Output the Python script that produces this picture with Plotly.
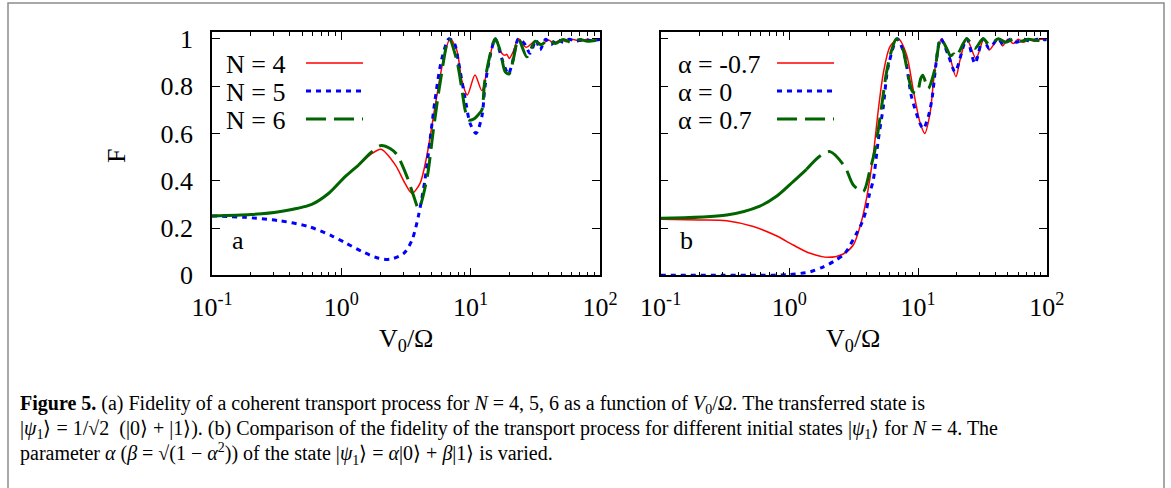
import plotly.graph_objects as go

# ---------------- data: panel (a), fidelity vs V0/Omega for N = 4, 5, 6 ----------------
n4_x = [0.1, 0.15, 0.2, 0.33, 0.45, 0.59, 0.8, 1.07, 1.36, 1.7, 2.03, 2.62, 3.1, 3.52, 4.06, 4.57,
        5.3, 6.15, 6.93, 7.8, 8.53, 9.42, 10.8, 12.2, 13.7, 15.5, 17.4, 18.4, 19.0, 19.9, 21.5, 23.4,
        26.8, 31.5, 35.5, 40, 43.7, 50, 55, 62, 70, 80, 90, 100]
n4_f = [0.251, 0.253, 0.257, 0.269, 0.281, 0.30, 0.347, 0.417, 0.466, 0.512, 0.533, 0.466, 0.39,
        0.347, 0.389, 0.502, 0.713, 0.91, 1.0, 0.953, 0.826, 0.762, 0.847, 0.781, 0.896, 1.0, 0.939,
        0.93, 0.935, 0.917, 0.95, 1.0, 0.964, 0.99, 0.978, 0.995, 0.982, 0.995, 0.988, 0.997, 0.99,
        0.998, 0.993, 0.997]

n5_x = [0.1, 0.18, 0.33, 0.56, 0.85, 1.07, 1.45, 1.95, 2.39, 3.04, 3.52, 3.96, 4.43, 4.85, 5.3,
        5.95, 6.8, 7.5, 8.04, 9.2, 9.89, 11.0, 12.2, 12.9, 14.1, 15.5, 17.4, 19.0, 19.6, 21.1, 23.4,
        26.0, 28.8, 32.0, 34.4, 38, 42, 46, 52, 58, 65, 75, 85, 100]
n5_f = [0.251, 0.245, 0.231, 0.206, 0.166, 0.138, 0.10, 0.072, 0.068, 0.093, 0.149, 0.255, 0.403,
        0.572, 0.741, 0.91, 1.0, 0.98, 0.903, 0.727, 0.643, 0.60, 0.671, 0.797, 0.924, 1.0, 0.917,
        0.861, 0.85, 0.903, 1.0, 0.98, 0.939, 0.995, 0.953, 0.998, 0.975, 0.998, 0.985, 0.998,
        0.99, 0.998, 0.993, 0.997]

n6_x = [0.1, 0.2, 0.33, 0.59, 0.8, 1.07, 1.36, 1.7, 2.0, 2.4, 2.7, 3.22, 3.6, 3.96, 4.57, 5.15,
        5.8, 6.8, 7.8, 8.53, 9.06, 9.6, 10.5, 11.5, 12.2, 12.9, 15.5, 16.9, 18.5, 19.8, 21.5, 23.4,
        27.2, 31.5, 35, 40, 45, 52, 60, 70, 80, 100]
n6_f = [0.251, 0.257, 0.269, 0.30, 0.347, 0.417, 0.466, 0.52, 0.548, 0.535, 0.509, 0.417, 0.34,
        0.283, 0.403, 0.614, 0.812, 1.0, 0.91, 0.79, 0.699, 0.657, 0.66, 0.68, 0.699, 0.826, 1.0,
        0.95, 0.86, 0.851, 0.92, 1.0, 0.924, 0.99, 0.975, 0.995, 0.98, 0.997, 0.985, 0.997, 0.99,
        0.997]

# ---------------- data: panel (b), N = 4, different alpha ----------------
am07_x = [0.1, 0.2, 0.326, 0.525, 0.8, 1.07, 1.45, 2.0, 2.62, 3.14, 3.54, 4.0, 4.49, 4.91, 5.37,
          6.05, 7.02, 8.15, 9.18, 10.4, 11.3, 12.4, 13.5, 15.2, 17.2, 19.7, 21.2, 23.9, 28.2, 32.5,
          35.7, 42, 45.4, 50, 55, 60, 66, 72, 80, 90, 100]
am07_f = [0.237, 0.234, 0.231, 0.206, 0.166, 0.128, 0.093, 0.076, 0.09, 0.128, 0.206, 0.332, 0.51,
          0.699, 0.854, 0.967, 1.0, 0.932, 0.784, 0.643, 0.60, 0.685, 0.868, 1.0, 0.946, 0.84, 0.91,
          1.0, 0.917, 1.0, 0.953, 1.0, 0.97, 0.998, 0.98, 0.998, 0.985, 0.998, 0.99, 0.998, 0.995]

a0_x = [0.1, 0.3, 0.6, 1.0, 1.45, 1.84, 2.2, 2.7, 3.33, 3.65, 3.98, 4.18, 4.49, 4.91, 5.37, 5.86,
        6.9, 7.9, 8.9, 10.4, 11.0, 12.0, 12.8, 15.0, 17.2, 19.4, 23.9, 27.7, 32.0, 35.7, 42, 46,
        52, 58, 66, 75, 85, 100]
a0_f = [0.0, 0.0, 0.0, 0.003, 0.015, 0.036, 0.058, 0.093, 0.178, 0.22, 0.28, 0.34, 0.403, 0.572,
        0.713, 0.882, 1.0, 0.924, 0.755, 0.64, 0.62, 0.67, 0.741, 1.0, 0.93, 0.861, 1.0, 0.896,
        1.0, 0.96, 1.0, 0.975, 0.998, 0.985, 0.998, 0.99, 0.998, 0.996]

ap07_x = [0.1, 0.326, 0.59, 0.8, 1.07, 1.36, 1.73, 2.07, 2.7, 3.14, 3.75, 4.23, 4.63, 5.21, 5.67,
          6.24, 6.8, 7.59, 8.15, 9.08, 9.8, 10.5, 10.9, 12.0, 13.5, 15.0, 16.9, 17.9, 19.0, 19.8,
          23.9, 27.7, 32.0, 36, 42, 48, 55, 63, 72, 85, 100]
ap07_f = [0.241, 0.255, 0.293, 0.335, 0.396, 0.448, 0.504, 0.523, 0.459, 0.382, 0.354, 0.445, 0.53,
          0.713, 0.854, 0.953, 1.0, 0.96, 0.882, 0.776, 0.77, 0.833, 0.846, 0.79, 0.87, 1.0, 0.953,
          0.927, 0.936, 0.925, 1.0, 0.96, 1.0, 0.975, 1.0, 0.985, 0.998, 0.99, 0.998, 0.993, 0.997]

xtick_vals = [0.1, 1, 10, 100]
xtick_text = ["10<sup>-1</sup>", "10<sup>0</sup>", "10<sup>1</sup>", "10<sup>2</sup>"]
ytick_vals = [0, 0.2, 0.4, 0.6, 0.8, 1]
ytick_text = ["0", "0.2", "0.4", "0.6", "0.8", "1"]

legend_a = ["N = 4", "N = 5", "N = 6"]
legend_b = ["α = -0.7", "α = 0", "α = 0.7"]

# ---------------- styling ----------------
W, H = 1171, 488
SERIF = "Liberation Serif"
RED, BLUE, GREEN = "#ff0000", "#0000ff", "#006400"
styles = [dict(color=RED, width=1.5, dash="solid"),
          dict(color=BLUE, width=3, dash="5px,5px"),
          dict(color=GREEN, width=3, dash="20px,8px")]
# the dashed series is drawn unbroken where it varies slowly (as in the original rendering)
SOLID_UNTIL = 1.4


def px_x(p):
    return p / W


def px_y(p):
    return 1 - p / H


def add_line(xs, fs, st, ax):
    fig.add_trace(go.Scatter(x=xs, y=fs, mode="lines", line=dict(shape="spline", smoothing=0.8, **st),
                             xaxis="x" if ax == 1 else "x2", yaxis="y" if ax == 1 else "y2",
                             showlegend=False, hoverinfo="skip"))


fig = go.Figure()
for xs, fs, st, ax in [(n4_x, n4_f, styles[0], 1), (n5_x, n5_f, styles[1], 1), (n6_x, n6_f, styles[2], 1),
                       (am07_x, am07_f, styles[0], 2), (a0_x, a0_f, styles[1], 2), (ap07_x, ap07_f, styles[2], 2)]:
    if st is styles[2]:
        k = max(i for i, v in enumerate(xs) if v <= SOLID_UNTIL)
        add_line(xs[:k + 1], fs[:k + 1], dict(st, dash="solid"), ax)
        add_line(xs[k:], fs[k:], st, ax)
    else:
        add_line(xs, fs, st, ax)

axis_font = dict(family=SERIF, size=26, color="black")
common_x = dict(type="log", range=[-1, 2], showline=True, linecolor="black", linewidth=1.5,
                mirror="allticks", ticks="inside", ticklen=8, tickwidth=1, tickcolor="black",
                tickvals=xtick_vals, ticktext=xtick_text, tickfont=axis_font, showgrid=False,
                zeroline=False, ticklabelstandoff=8, automargin=False,
                minor=dict(ticks="inside", ticklen=4, tickwidth=1, tickcolor="black", dtick="D1",
                           showgrid=False))
common_y = dict(range=[0, 1.0275], showline=True, linecolor="black", linewidth=1.5, mirror="allticks",
                ticks="inside", ticklen=8, tickwidth=1, tickcolor="black", tickvals=ytick_vals,
                ticktext=ytick_text, tickfont=axis_font, showgrid=False, zeroline=False,
                ticklabelstandoff=12, automargin=False)

ydom = [1 - 275.3 / H, 1 - 32.3 / H]
fig.update_layout(
    width=W, height=H, margin=dict(l=0, r=0, t=0, b=0, pad=0, autoexpand=False),
    paper_bgcolor="white", plot_bgcolor="white",
    xaxis=dict(domain=[212 / W, 600 / W], anchor="y", **common_x),
    yaxis=dict(domain=ydom, anchor="x", **common_y),
    xaxis2=dict(domain=[660.7 / W, 1046.7 / W], anchor="y2", **common_x),
    yaxis2=dict(domain=ydom, anchor="x2", showticklabels=False, **common_y),
    showlegend=False,
)

annots = []
shapes = []


def label(cx, cy, text, size=26, xanchor="center", **kw):
    annots.append(dict(x=px_x(cx), y=px_y(cy), xref="paper", yref="paper", text=text, showarrow=False,
                       xanchor=xanchor, yanchor="middle", font=dict(family=SERIF, size=size, color="black"),
                       **kw))


# axis titles
for cx in (406, 853):
    label(cx, 340, "V<sub>0</sub>/Ω")
label(116, 156, "F", textangle=-90)
# panel labels
label(238, 240, "a")
label(686, 240, "b")
# legends (key text left, sample line right)
rows_y = [64, 92, 120]
for labels, tx, lx0, lx1 in [(legend_a, 224, 306, 363), (legend_b, 676, 777, 834)]:
    for lab, ry, st in zip(labels, rows_y, styles):
        label(tx, ry, lab, xanchor="left")
        shapes.append(dict(type="line", xref="paper", yref="paper", x0=px_x(lx0), x1=px_x(lx1),
                           y0=px_y(ry - 1), y1=px_y(ry - 1), line=st))

# caption
cap = [
    "<b>Figure 5.</b> (a) Fidelity of a coherent transport process for <i>N</i> = 4, 5, 6 as a function of "
    "<i>V</i><sub>0</sub>/<i>Ω</i>. The transferred state is",
    "|<i>ψ</i><sub>1</sub>⟩ = 1/√2  (|0⟩ + |1⟩). (b) Comparison of the fidelity of the "
    "transport process for different initial states |<i>ψ</i><sub>1</sub>⟩ for <i>N</i> = 4. The",
    "parameter <i>α</i> (<i>β</i> = √(1 − <i>α</i><sup>2</sup>)) of the state "
    "|<i>ψ</i><sub>1</sub>⟩ = <i>α</i>|0⟩ + <i>β</i>|1⟩ is varied.",
]
for line, cy in zip(cap, [404, 429, 454]):
    label(18, cy, line, size=20, xanchor="left")

# outer frame
shapes.append(dict(type="rect", xref="paper", yref="paper", x0=px_x(8), x1=px_x(1164), y0=-0.2,
                   y1=px_y(3), line=dict(color="#8c8c8c", width=1.5)))

fig.update_layout(annotations=annots, shapes=shapes)
fig.write_html("out.html", config={"displayModeBar": False},
               post_script="document.body.style.margin='0px';")
